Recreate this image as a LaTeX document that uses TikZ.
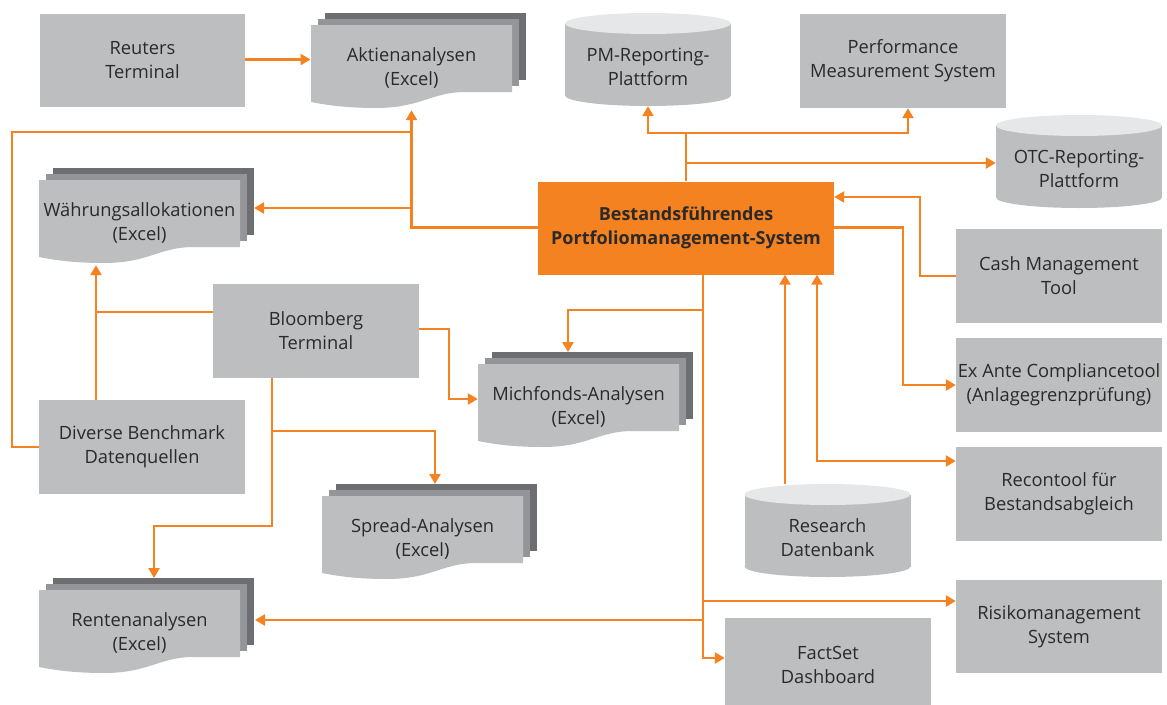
\documentclass[tikz,border=0pt]{standalone}
\usepackage{fontspec}
\setmainfont{Open Sans}
\usetikzlibrary{arrows.meta}
\definecolor{boxgray}{HTML}{BCBEC0}
\definecolor{midgray}{HTML}{939598}
\definecolor{backgray}{HTML}{6D6E71}
\definecolor{topgray}{HTML}{E6E7E8}
\definecolor{orng}{HTML}{F58220}
\definecolor{txt}{HTML}{2A2A2A}
\tikzset{
  base/.style={font=\fontsize{18.3}{24}\selectfont, text=txt, align=center, inner sep=0pt},
  gbox/.style={base, fill=boxgray, minimum width=206pt, minimum height=94pt},
  lbl/.style={base},
  conn/.style={draw=orng, line width=2.4pt},
  arr/.style={conn, -{Triangle[length=10pt,width=11pt]}},
  darr/.style={conn, {Triangle[length=10pt,width=11pt]}-{Triangle[length=10pt,width=11pt]}},
}
\newcommand{\docstack}[4]{%
  \fill[backgray] ({#1+14},{#2-12}) rectangle ({#1+215},{#2+55});
  \fill[midgray] ({#1+7},{#2-6}) rectangle ({#1+208},{#2+61});
  \fill[boxgray] (#1,#2) -- ({#1+201},#2) -- ({#1+201},{#2+67}) -- ({#1+155},{#2+67})
     .. controls ({#1+120},{#2+67}) and ({#1+110},{#2+83}) .. ({#1+65},{#2+83})
     .. controls ({#1+35},{#2+83}) and ({#1+15},{#2+80}) .. (#1,{#2+77}) -- cycle;
  \node[lbl, minimum width=201pt, minimum height=84pt] (#3) at ({#1+100.5},{#2+43}) {#4};
}
\newcommand{\mycyl}[5]{%
  \fill[boxgray] (#1,{#3-10.5}) ellipse [x radius=83, y radius=10.5];
  \fill[boxgray] ({#1-83},{#2+10.5}) rectangle ({#1+83},{#3-10.5});
  \fill[topgray] (#1,{#2+10.5}) ellipse [x radius=83, y radius=10.5];
  \node[lbl, minimum width=166pt, minimum height=93pt] (#4) at (#1,{(#2+#3)/2+7}) {#5};
}
\begin{document}
\begin{tikzpicture}[x=1pt,y=-1pt]
\useasboundingbox (0,0) rectangle (1167,704);
% plain boxes
\node[gbox, minimum width=205pt, minimum height=93pt] (reuters) at (142.5,60.5) {Reuters\\Terminal};
\node[gbox] (perf) at (903,61) {Performance\\Measurement System};
\node[gbox, fill=orng, minimum width=296pt, minimum height=93pt, font=\bfseries\fontsize{18}{24}\selectfont] (bestand) at (686,228) {Bestandsführendes\\Portfoliomanagement-System};
\node[gbox] (bloom) at (316,331) {Bloomberg\\Terminal};
\node[gbox] (diverse) at (142,447) {Diverse Benchmark\\Datenquellen};
\node[gbox] (cash) at (1059,276) {Cash Management\\Tool};
\node[gbox] (exante) at (1059,385) {Ex Ante Compliancetool\\(Anlagegrenzprüfung)};
\node[gbox] (recon) at (1059,494) {Recontool für\\Bestandsabgleich};
\node[gbox, minimum height=93pt] (risiko) at (1059,626.5) {Risikomanagement\\System};
\node[gbox] (factset) at (828,665) {FactSet\\Dashboard};
% document stacks
\docstack{311}{25}{akt}{Aktienanalysen\\(Excel)}
\docstack{39}{180}{waehr}{Währungsallokationen\\(Excel)}
\docstack{478}{364}{mich}{Michfonds-Analysen\\(Excel)}
\docstack{322}{496}{spread}{Spread-Analysen\\(Excel)}
\docstack{39}{590}{renten}{Rentenanalysen\\(Excel)}
% cylinders
\mycyl{648}{13}{106}{pm}{PM-Reporting-\\Plattform}
\mycyl{1079}{115}{208}{otc}{OTC-Reporting-\\Plattform}
\mycyl{827.5}{484}{577}{research}{Research\\Datenbank}
% coordinates
\coordinate (wtip) at (254,208);
\coordinate (loop) at (12,132);
\coordinate (dtop) at (96,399.5);
\coordinate (bl) at (96,312);
\coordinate (up) at (686,133);
\coordinate (otcj) at (686,163);
\coordinate (rs) at (785,484);
\coordinate (rc) at (817,461);
\coordinate (bw) at (538,227.5);
\coordinate (be) at (834,227.5);
% connectors
\draw[arr] (reuters.east |- 0,59.5) -- (310.5,59.5);
\draw[arr] (bw) -| (akt.south);
\draw[arr] (akt.south |- wtip) -- (wtip);
\draw[conn] (diverse.west) -| (loop) -- (loop -| akt.south);
\draw[arr] (dtop) -- (dtop |- waehr.south);
\draw[conn] ([yshift=19pt]bloom.west) -- (bl);
\draw[arr] ([yshift=2pt]bloom.east) -- (449,329) |- ([yshift=8pt]mich.west);
\draw[arr] ([xshift=-44pt]bloom.south) -- (272,526) -| (154,578);
\draw[arr] (272,431) -| (435,484);
\draw[arr] ([xshift=17pt]bestand.south) |- ([yshift=7pt]factset.west);
\draw[arr] (703,310) -| (568,352);
\draw[arr] (703,601) -- ([yshift=25.5pt]risiko.west);
\draw[arr] (703,620) -- (255,620);
\draw[conn] (bestand.north) -- (up);
\draw[arr] (up) -| ([yshift=7pt]pm.south);
\draw[arr] (up) -| ([xshift=5pt]perf.south);
\draw[arr] (otcj) -- (otcj -| otc.west);
\draw[arr] (be) -- (903,227.5) |- (exante.west);
\draw[arr] (cash.west) -| (920,197) -- ([yshift=31pt]bestand.east);
\draw[arr] (rs) -- (rs |- bestand.south);
\draw[darr] (rc |- bestand.south) |- ([yshift=33pt]recon.west);
\end{tikzpicture}
\end{document}
